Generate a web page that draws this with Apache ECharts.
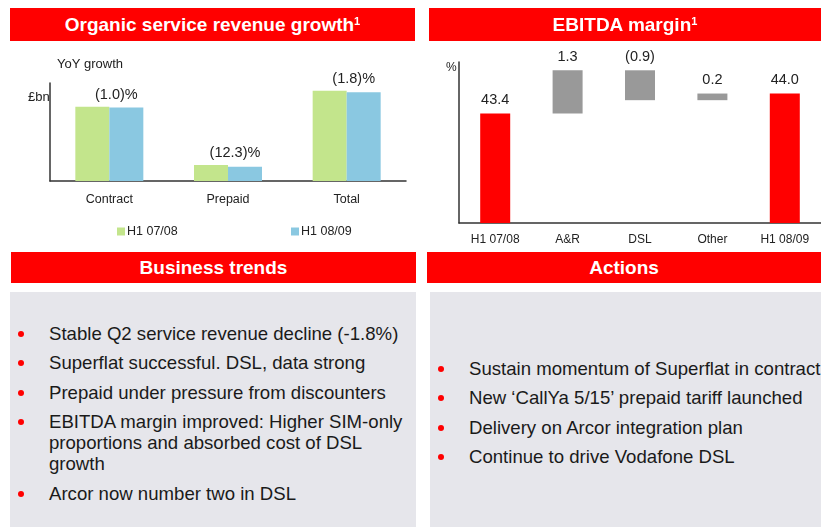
<!DOCTYPE html>
<html>
<head>
<meta charset="utf-8">
<script src="https://cdn.jsdelivr.net/npm/echarts@6/dist/echarts.min.js"></script>
<style>
  body{margin:0;width:821px;height:527px;background:#fff;position:relative;overflow:hidden;font-family:"Liberation Sans",Arial,sans-serif;}
  .chart{position:absolute;left:0;top:0;width:821px;height:250px;}
  .head{position:absolute;background:#ff0000;color:#fff;font-weight:bold;font-size:19px;text-align:center;}
  .head sup{font-size:11px;vertical-align:top;position:relative;top:-3px;}
  .panel{position:absolute;background:#e6e6eb;overflow:hidden;}
  .item{position:absolute;left:0;right:0;font-size:18.6px;line-height:21px;color:#1a1a1a;white-space:nowrap;}
  .item .dot{position:absolute;width:6px;height:6px;border-radius:50%;background:#ff0000;top:8px;}
</style>
</head>
<body>
<div class="chart" id="chart"></div>
<div class="head" style="left:10px;top:8px;width:405px;height:33px;line-height:33px;">Organic service revenue growth<sup>1</sup></div>
<div class="head" style="left:429px;top:8px;width:392px;height:33px;line-height:33px;">EBITDA margin<sup>1</sup></div>
<div class="head" style="left:11px;top:252px;width:405px;height:31px;line-height:31px;">Business trends</div>
<div class="head" style="left:427px;top:252px;width:394px;height:31px;line-height:31px;">Actions</div>
<div class="panel" id="trends" style="left:10px;top:292px;width:406px;height:235px;"></div>
<div class="panel" id="actions" style="left:430px;top:292px;width:391px;height:235px;"></div>
<script>
// organic service revenue (£bn)
const revCategories = ['Contract', 'Prepaid', 'Total']
const revPrior = [2.31, 0.50, 2.81]
const revCurrent = [2.29, 0.44, 2.76]
const revGrowth = ['(1.0)%', '(12.3)%', '(1.8)%']
const revSeriesNames = ['H1 07/08', 'H1 08/09']

// EBITDA margin bridge (%)
const ebCategories = ['H1 07/08', 'A&R', 'DSL', 'Other', 'H1 08/09']
const ebValues = [43.4, 1.3, -0.9, 0.2, 44.0]
const ebLabels = ['43.4', '1.3', '(0.9)', '0.2', '44.0']
const ebIsTotal = [true, false, false, false, true]

const trends = [
    ['Stable Q2 service revenue decline (-1.8%)'],
    ['Superflat successful. DSL, data strong'],
    ['Prepaid under pressure from discounters'],
    ['EBITDA margin improved: Higher SIM-only', 'proportions and absorbed cost of DSL', 'growth'],
    ['Arcor now number two in DSL']
]
const trendTops = [31, 60, 90, 119, 191]
const actions = [
    'Sustain momentum of Superflat in contract',
    'New \u2018CallYa 5/15\u2019 prepaid tariff launched',
    'Delivery on Arcor integration plan',
    'Continue to drive Vodafone DSL'
]
const actionTops = [66, 95, 125, 154]

function fillPanel(el, items, tops, dotLeft, textLeft){
    items.forEach((lines, i) => {
        const d = document.createElement('div')
        d.className = 'item'
        d.style.top = tops[i] + 'px'
        d.innerHTML = '<span class="dot" style="left:' + dotLeft + 'px"></span>' +
            '<div style="padding-left:' + textLeft + 'px">' + [].concat(lines).join('<br>') + '</div>'
        el.appendChild(d)
    })
}
fillPanel(document.getElementById('trends'), trends, trendTops, 8, 39)
fillPanel(document.getElementById('actions'), actions, actionTops, 8, 39)

// waterfall: invisible base + visible step
const ebBase = []
const ebShown = []
let running = 0
ebValues.forEach((v, i) => {
    if (ebIsTotal[i]) {
        ebBase.push(0)
        ebShown.push(v)
        running = v
    } else {
        const next = running + v
        ebBase.push(Math.min(running, next))
        ebShown.push(Math.abs(v))
        running = next
    }
})

const axisCol = '#333'
const chart = echarts.init(document.getElementById('chart'))
const option = {
    animation: false,
    textStyle: { fontFamily: 'Liberation Sans, Arial, sans-serif' },
    grid: [
        { left: 50, top: 83, width: 356, height: 98 },
        { left: 459, top: 62, width: 362, height: 161 }
    ],
    legend: [
        { data: [revSeriesNames[0]], left: 112, top: 220, icon: 'rect', itemWidth: 8, itemHeight: 8,
          textStyle: { fontSize: 12.5, color: '#222', padding: [0, 0, 0, -3] } },
        { data: [revSeriesNames[1]], left: 286, top: 220, icon: 'rect', itemWidth: 8, itemHeight: 8,
          textStyle: { fontSize: 12.5, color: '#222', padding: [0, 0, 0, -3] } }
    ],
    xAxis: [
        { gridIndex: 0, type: 'category', data: revCategories,
          axisLine: { lineStyle: { color: axisCol, width: 1.5 } }, axisTick: { show: false },
          axisLabel: { color: '#222', fontSize: 12.5, margin: 12 } },
        { gridIndex: 1, type: 'category', data: ebCategories,
          axisLine: { lineStyle: { color: axisCol, width: 1.5 } }, axisTick: { show: false },
          axisLabel: { color: '#222', fontSize: 12, margin: 11 } }
    ],
    yAxis: [
        { gridIndex: 0, type: 'value', min: 0, max: 3.05,
          axisLine: { show: true, lineStyle: { color: axisCol, width: 1.5 } },
          axisTick: { show: false }, axisLabel: { show: false }, splitLine: { show: false } },
        { gridIndex: 1, type: 'value', min: 40.1, max: 44.95,
          axisLine: { show: true, lineStyle: { color: axisCol, width: 1.5 } },
          axisTick: { show: false }, axisLabel: { show: false }, splitLine: { show: false } }
    ],
    graphic: [
        { type: 'text', left: 57, top: 58, style: { text: 'YoY growth', fontSize: 13, fill: '#222' } },
        { type: 'text', left: 28, top: 91, style: { text: '\u00a3bn', fontSize: 13, fill: '#222' } },
        { type: 'text', left: 446, top: 62, style: { text: '%', fontSize: 12, fill: '#222' } }
    ],
    series: [
        { name: revSeriesNames[0], type: 'bar', xAxisIndex: 0, yAxisIndex: 0,
          data: revPrior, barWidth: 34, barGap: '0%', itemStyle: { color: '#c3e58c' },
          label: { show: true, position: 'top', distance: 4, offset: [24, 0], fontSize: 14.5, color: '#222',
                   formatter: p => revGrowth[p.dataIndex] } },
        { name: revSeriesNames[1], type: 'bar', xAxisIndex: 0, yAxisIndex: 0,
          data: revCurrent, barWidth: 34, barGap: '0%', itemStyle: { color: '#8ac8e1' } },
        { type: 'bar', xAxisIndex: 1, yAxisIndex: 1, stack: 'w', data: ebBase, barWidth: 30,
          itemStyle: { color: 'transparent' }, silent: true },
        { type: 'bar', xAxisIndex: 1, yAxisIndex: 1, stack: 'w', barWidth: 30,
          data: ebShown.map((v, i) => ({ value: v, itemStyle: { color: ebIsTotal[i] ? '#ff0000' : '#999999' } })),
          label: { show: true, position: 'top', distance: 6, fontSize: 14.5, color: '#222',
                   formatter: p => ebLabels[p.dataIndex] } }
    ]
}
chart.setOption(option)
</script>
</body>
</html>
